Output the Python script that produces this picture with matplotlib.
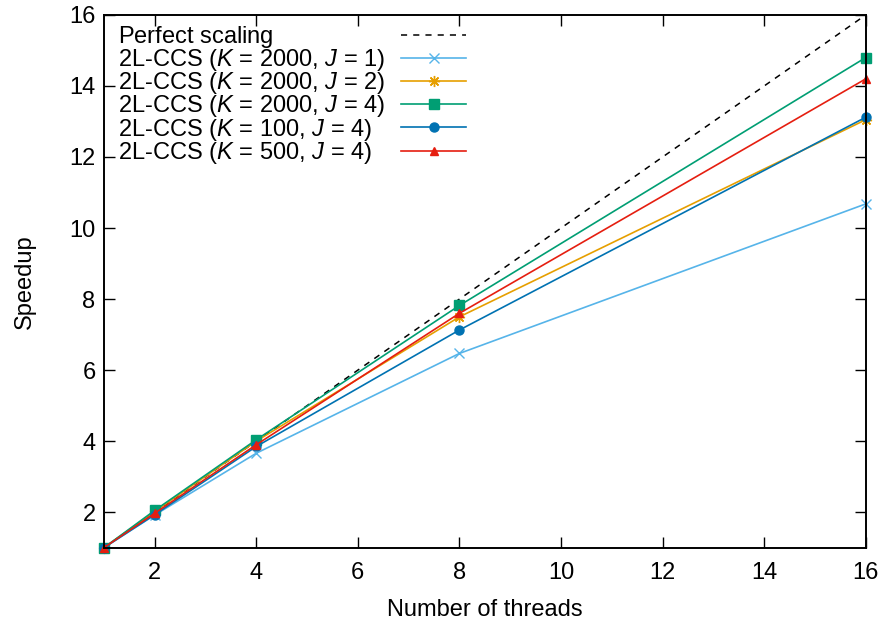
import matplotlib
matplotlib.use("Agg")
import matplotlib.pyplot as plt

"""Dane odczytane z wykresu"""
threads = [1, 2, 4, 8, 16]
perfect = [1, 2, 4, 8, 16]
k2000_j1 = [1, 1.92, 3.66, 6.47, 10.68]
k2000_j2 = [1, 2.02, 4.00, 7.50, 13.05]
k2000_j4 = [1, 2.05, 4.04, 7.82, 14.80]
k100_j4 = [1, 1.93, 3.85, 7.13, 13.12]
k500_j4 = [1, 1.97, 3.90, 7.60, 14.20]

labels = [
    "2L-CCS ($K$ = 2000, $J$ = 1)",
    "2L-CCS ($K$ = 2000, $J$ = 2)",
    "2L-CCS ($K$ = 2000, $J$ = 4)",
    "2L-CCS ($K$ = 100, $J$ = 4)",
    "2L-CCS ($K$ = 500, $J$ = 4)",
]
series = [k2000_j1, k2000_j2, k2000_j4, k100_j4, k500_j4]
colors = ["#56b4e9", "#e69f00", "#009e73", "#0072b2", "#e51e10"]
markers = ["x", (8, 2, 0), "s", "o", "^"]
msizes = [7, 8, 6.5, 6.5, 6]

plt.rcParams["font.family"] = ["Liberation Sans", "DejaVu Sans"]
plt.rcParams["mathtext.fontset"] = "custom"
plt.rcParams["mathtext.rm"] = "Liberation Sans"
plt.rcParams["mathtext.it"] = "Liberation Sans:italic"
plt.rcParams["font.size"] = 17

fig = plt.figure(figsize=(8.88, 6.21), dpi=100)
ax = fig.add_axes([0.117, 0.118, 0.858, 0.858])

# "$\ $" - zeby wiersz mial ta sama wysokosc co wiersze z mathtextem
ax.plot(threads, perfect, color="black", linestyle=(0, (4, 4)), linewidth=1.1, label=r"Perfect$\ $scaling")
for s, lab, c, m, ms in zip(series, labels, colors, markers, msizes):
    ax.plot(threads, s, color=c, marker=m, markersize=ms, linewidth=1.2, label=lab, clip_on=False)

ax.set_xlim(1, 16)
ax.set_ylim(1, 16)
ax.set_xticks(range(2, 17, 2))
ax.set_yticks(range(2, 17, 2))
ax.tick_params(direction="in", length=8, width=1, top=True, right=True, pad=6)
ax.tick_params(axis="x", pad=10)
for sp in ax.spines.values():
    sp.set_linewidth(1.4)
ax.set_xlabel("Number of threads", labelpad=11)
ax.set_ylabel("Speedup", labelpad=24)

leg = ax.legend(loc="upper left", frameon=False, markerfirst=False, handlelength=2.75,
                labelspacing=-0.12, borderpad=0, borderaxespad=0, handletextpad=0.7,
                bbox_to_anchor=(0.018, 0.983))

# wyrownanie tekstu legendy do lewej (jak w gnuplocie)
fig.canvas.draw()
renderer = fig.canvas.get_renderer()
widths = [t.get_window_extent(renderer).width for t in leg.get_texts()]
wmax = max(widths)
rows = leg._legend_handle_box.get_children()[0].get_children()
for row, w in zip(rows, widths):
    row.sep = 0.7 * 17 + (wmax - w) * 72.0 / fig.dpi

fig.savefig("out.png", dpi=100)
